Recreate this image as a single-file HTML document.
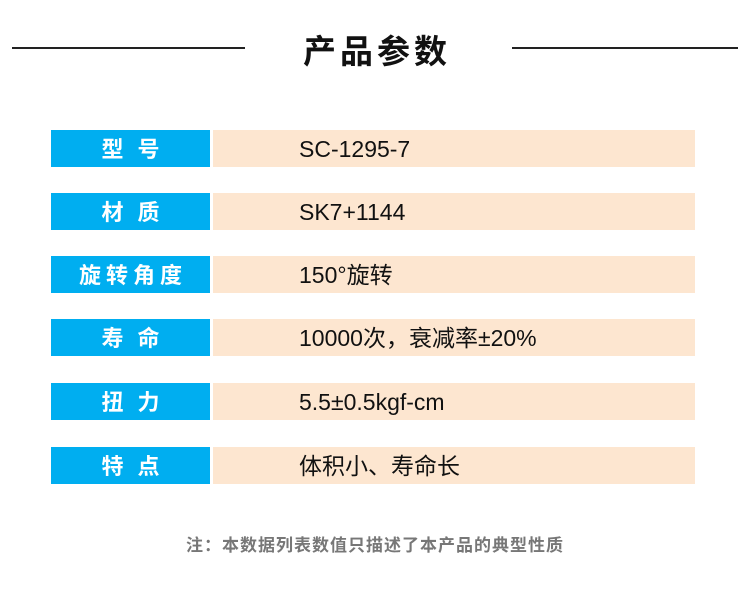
<!DOCTYPE html>
<html><head><meta charset="utf-8"><style>
body{margin:0;width:750px;height:590px;background:#fff;position:relative;overflow:hidden;font-family:"Liberation Sans","Noto Sans CJK SC",sans-serif}
.line{position:absolute;top:47px;height:2px;background:#222}
.title{position:absolute;top:25px;left:0;width:750px;text-align:center;font-size:33px;font-weight:bold;color:#111;letter-spacing:4px;text-indent:4px}
.lab{position:absolute;left:51px;width:159px;height:37px;background:#00aef0;color:#fff;font-size:22px;font-weight:bold;text-align:center;line-height:39px}
.val{position:absolute;left:213px;width:482px;height:37px;background:#fde6d0;color:#111;font-size:23px;line-height:39px;padding-left:86px;box-sizing:border-box}
.note{position:absolute;top:531px;left:0;width:750px;text-align:center;font-size:17px;color:#777;letter-spacing:1px;font-weight:bold}
</style></head><body>
<div class="line" style="left:12px;width:233px"></div>
<div class="line" style="left:512px;width:226px"></div>
<div class="title">产品参数</div>
<div class="lab" style="top:130px;letter-spacing:14px;text-indent:14px">型号</div>
<div class="val" style="top:130px">SC-1295-7</div>
<div class="lab" style="top:193px;letter-spacing:14px;text-indent:14px">材质</div>
<div class="val" style="top:193px">SK7+1144</div>
<div class="lab" style="top:256px;letter-spacing:5px;text-indent:5px">旋转角度</div>
<div class="val" style="top:256px">150°旋转</div>
<div class="lab" style="top:319px;letter-spacing:14px;text-indent:14px">寿命</div>
<div class="val" style="top:319px">10000次，衰减率±20%</div>
<div class="lab" style="top:383px;letter-spacing:14px;text-indent:14px">扭力</div>
<div class="val" style="top:383px">5.5±0.5kgf-cm</div>
<div class="lab" style="top:447px;letter-spacing:14px;text-indent:14px">特点</div>
<div class="val" style="top:447px">体积小、寿命长</div>
<div class="note">注：本数据列表数值只描述了本产品的典型性质</div>
</body></html>
